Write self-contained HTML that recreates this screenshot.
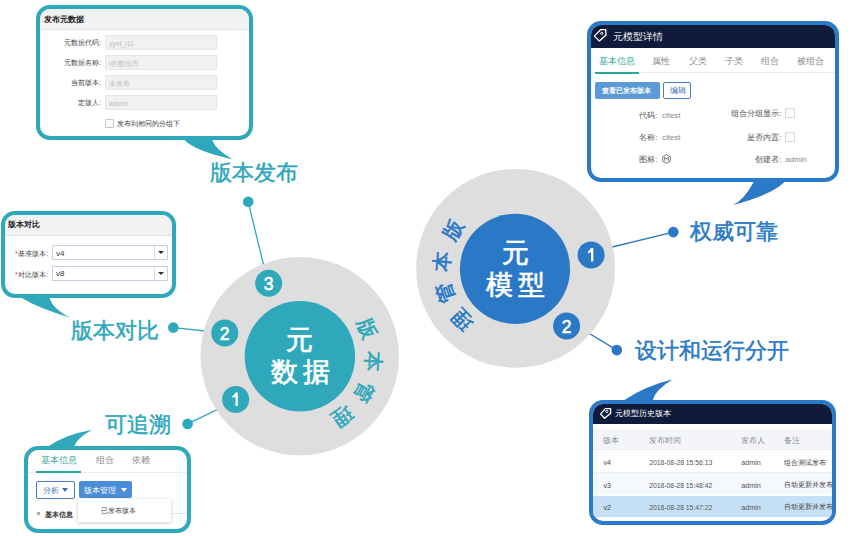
<!DOCTYPE html>
<html><head><meta charset="utf-8">
<style>
*{box-sizing:border-box;margin:0;padding:0}
html,body{width:860px;height:536px;overflow:hidden;background:#fff;font-family:"Liberation Sans",sans-serif}
svg.layer{position:absolute;left:0;top:0}
.box{position:absolute;border:4px solid #2fa8bc;border-radius:14px;background:#fff;overflow:hidden}
.bbox{border-color:#2a7bc7}
.big{position:absolute;font-size:22px;line-height:22px;white-space:nowrap;color:#2fa8bc;-webkit-text-stroke:0.5px #2fa8bc}
.bl{color:#2a78c6;-webkit-text-stroke:0.5px #2a78c6}
.ctr{position:absolute;white-space:nowrap;line-height:1;font-size:27px;color:#fff;-webkit-text-stroke:0.7px #fff}
.hdr{position:absolute;left:0;right:0;top:0;background:#f2f2f2;border-bottom:1px solid #e3e3e3}
.t{position:absolute;white-space:nowrap;line-height:1}
.inp{position:absolute;background:#f1f1f1;border:1px solid #e6e6e6;border-radius:1px}
.lbl{position:absolute;white-space:nowrap;line-height:1;font-size:7px;color:#444;text-align:right}
.sel{position:absolute;background:#fff;border:1px solid #c5cde0;border-radius:1px}
.sel .dv{position:absolute;top:0;bottom:0;width:1px;background:#d6dbe6}
.arr{position:absolute;width:0;height:0;border-left:3.5px solid transparent;border-right:3.5px solid transparent;border-top:4px solid #333}
.navy{position:absolute;left:0;right:0;top:0;background:#101a3b}
.tab{position:absolute;white-space:nowrap;line-height:1;font-size:8.6px;color:#888}
.cb{position:absolute;border:1px solid #ccc;background:#fff;border-radius:1px}
</style></head>
<body>
<svg class="layer" width="860" height="536" viewBox="0 0 860 536">
  <g stroke-width="1.3" fill="none">
    <line x1="248.2" y1="201.8" x2="266" y2="275" stroke="#2fa8bc"/>
    <line x1="173.3" y1="327.6" x2="215" y2="332" stroke="#2fa8bc"/>
    <line x1="187.6" y1="423.9" x2="225" y2="405.8" stroke="#2fa8bc"/>
    <line x1="673.3" y1="232.1" x2="600" y2="250" stroke="#2a78c6"/>
    <line x1="616.8" y1="350.1" x2="580" y2="327.7" stroke="#2a78c6"/>
  </g>
  <circle cx="248.2" cy="201.8" r="5.3" fill="#2fa8bc"/>
  <circle cx="173.3" cy="327.6" r="5.3" fill="#2fa8bc"/>
  <circle cx="187.6" cy="423.9" r="5.3" fill="#2fa8bc"/>
  <circle cx="673.3" cy="232.1" r="5.3" fill="#2a78c6"/>
  <circle cx="616.8" cy="350.1" r="5.3" fill="#2a78c6"/>

  <circle cx="299.75" cy="356.2" r="99.2" fill="#dedede"/>
  <circle cx="299.9" cy="356.3" r="55.2" fill="#2fa8bc"/>
  <circle cx="268.7" cy="283.2" r="13.5" fill="#2fa8bc"/>
  <circle cx="224.8" cy="332.9" r="13.5" fill="#2fa8bc"/>
  <circle cx="235.7" cy="399.4" r="13.5" fill="#2fa8bc"/>
  <g transform="translate(235.6,399.4)"><path d="M0,-6.8 H2.2 V6.7 H-0.1 V-3.2 Q-1.4,-2.1 -3.2,-1.4 V-3.4 Q-1.2,-4.4 0,-6.8 Z" fill="#fff"/></g>
  <g font-family="Liberation Sans, sans-serif" font-size="17.5" fill="#fff" text-anchor="middle" stroke="#fff" stroke-width="0.6">
    <text x="268.7" y="289.9">3</text>
    <text x="224.7" y="339.6">2</text>
    
  </g>
  <g font-size="20" fill="#2fa8bc" stroke="#2fa8bc" stroke-width="0.7" text-anchor="middle" dominant-baseline="central">
    <text transform="translate(367.6,329) rotate(68)">版</text>
    <text transform="translate(372.9,361.1) rotate(93.6)">本</text>
    <text transform="translate(363.8,392.1) rotate(119)">管</text>
    <text transform="translate(342.4,416.2) rotate(144.3)">理</text>
  </g>

  <circle cx="515.6" cy="268.3" r="99.4" fill="#dedede"/>
  <circle cx="515" cy="268.8" r="55.1" fill="#2a78c6"/>
  <circle cx="591.1" cy="254.9" r="13.5" fill="#2a78c6"/>
  <g transform="translate(591.1,254.9)"><path d="M0,-6.8 H2.2 V6.7 H-0.1 V-3.2 Q-1.4,-2.1 -3.2,-1.4 V-3.4 Q-1.2,-4.4 0,-6.8 Z" fill="#fff"/></g>
  <circle cx="566.6" cy="326" r="13.5" fill="#2a78c6"/>
  <g font-family="Liberation Sans, sans-serif" font-size="17.5" fill="#fff" text-anchor="middle" stroke="#fff" stroke-width="0.6">
    
    <text x="566.6" y="332.6">2</text>
  </g>
  <g font-size="20" fill="#2a78c6" stroke="#2a78c6" stroke-width="0.7" text-anchor="middle" dominant-baseline="central">
    <text transform="translate(453,229.9) rotate(-59)">版</text>
    <text transform="translate(441.8,261.8) rotate(-85)">本</text>
    <text transform="translate(445.6,292.6) rotate(-109)">管</text>
    <text transform="translate(462,319.6) rotate(-133.5)">理</text>
  </g>

  <path d="M184.6,134 L184.6,140 Q195.4,151.3 232.2,159.2 Q215,149 212.3,140 L212.3,134 Z" fill="#2fa8bc"/>
  <path d="M20.9,292 L20.9,297.5 Q38.45,308.4 69.8,317.4 Q51.95,308.4 49.5,297.5 L49.5,292 Z" fill="#2fa8bc"/>
  <path d="M48.1,452 L48.1,446.4 Q64.9,434.55 92.5,429.7 Q77.95,436.75 74,446.4 L74,452 Z" fill="#2fa8bc"/>
  <path d="M753.5,176 L753.5,182.2 Q743.5,200.75 732.6,205 Q771,195.15 784.2,182.2 L784.2,176 Z" fill="#2a78c6"/>
  <path d="M624.4,406 L624.4,400 Q645.8,385.85 672.8,379.3 Q655.8,389.45 652.8,400 L652.8,406 Z" fill="#2a78c6"/>
</svg>

<div class="ctr" style="left:286px;top:327px">元</div>
<div class="ctr" style="left:271px;top:358.7px;letter-spacing:4.7px">数据</div>
<div class="ctr" style="left:502px;top:240px">元</div>
<div class="ctr" style="left:486px;top:271.5px;letter-spacing:4.6px">模型</div>

<div class="big" style="left:210px;top:162px">版本发布</div>
<div class="big" style="left:71px;top:320px">版本对比</div>
<div class="big" style="left:105px;top:414px">可追溯</div>
<div class="big bl" style="left:690px;top:221px">权威可靠</div>
<div class="big bl" style="left:635px;top:340px">设计和运行分开</div>

<!-- box 1: 发布元数据 -->
<div class="box" style="left:36px;top:5px;width:217px;height:135px">
  <div class="hdr" style="height:21px"></div>
  <div class="t" style="left:4px;top:6.5px;font-size:8px;font-weight:bold;color:#222">发布元数据</div>
  <div class="lbl" style="left:0;width:61px;top:31.2px;font-size:6.6px">元数据代码:</div>
  <div class="lbl" style="left:0;width:61px;top:51.2px;font-size:6.6px">元数据名称:</div>
  <div class="lbl" style="left:0;width:61px;top:71.2px;font-size:6.6px">当前版本:</div>
  <div class="lbl" style="left:0;width:61px;top:91.2px;font-size:6.6px">定版人:</div>
  <div class="inp" style="left:65px;top:26px;width:112px;height:14.6px"></div>
  <div class="inp" style="left:65px;top:46.2px;width:112px;height:14.6px"></div>
  <div class="inp" style="left:65px;top:66.2px;width:112px;height:14.6px"></div>
  <div class="inp" style="left:65px;top:86.2px;width:112px;height:14.6px"></div>
  <div class="t" style="left:69px;top:31px;font-size:7px;color:#c0c0c0">yyxt_i11</div>
  <div class="t" style="left:69px;top:51px;font-size:7px;color:#c0c0c0">i的数据库</div>
  <div class="t" style="left:69px;top:71px;font-size:7px;color:#c0c0c0">未发布</div>
  <div class="t" style="left:69px;top:91px;font-size:7px;color:#c0c0c0">admin</div>
  <div class="cb" style="left:65.4px;top:110.3px;width:8.5px;height:8.5px;border-color:#bfc6d6"></div>
  <div class="t" style="left:77.3px;top:112px;font-size:6.6px;color:#444">发布到相同的分组下</div>
</div>

<!-- box 2: 版本对比 -->
<div class="box" style="left:1px;top:211px;width:174.5px;height:86.5px">
  <div class="hdr" style="height:21.4px"></div>
  <div class="t" style="left:3px;top:6px;font-size:8px;font-weight:bold;color:#222">版本对比</div>
  <div class="t" style="left:10px;top:35px;font-size:7px;color:#e33">*</div>
  <div class="lbl" style="left:0;width:43px;top:35px">基准版本:</div>
  <div class="t" style="left:10px;top:55.5px;font-size:7px;color:#e33">*</div>
  <div class="lbl" style="left:0;width:43px;top:55.5px">对比版本:</div>
  <div class="sel" style="left:47px;top:30.2px;width:115.5px;height:14.6px"><div class="dv" style="left:101px"></div><div class="arr" style="left:104.5px;top:5px;border-left-width:3px;border-right-width:3px;border-top-width:3.5px"></div></div>
  <div class="sel" style="left:47px;top:50.6px;width:115.5px;height:15px"><div class="dv" style="left:101px"></div><div class="arr" style="left:104.5px;top:5.3px;border-left-width:3px;border-right-width:3px;border-top-width:3.5px"></div></div>
  <div class="t" style="left:51px;top:34.5px;font-size:8px;color:#333">v4</div>
  <div class="t" style="left:51px;top:55px;font-size:8px;color:#333">v8</div>
</div>

<!-- box 3 -->
<div class="box" style="left:24px;top:446.4px;width:167px;height:86.5px">
  <div class="t" style="left:0;right:0;top:21.3px;height:1px;background:#ececec"></div>
  <div class="tab" style="left:13.4px;top:6px;font-size:8.6px;color:#36a893">基本信息</div>
  <div class="tab" style="left:67.5px;top:6px;font-size:8.6px;color:#888">组合</div>
  <div class="tab" style="left:104px;top:6px;font-size:8.6px;color:#888">依赖</div>
  <div class="t" style="left:8.2px;top:20.5px;width:44.8px;height:2px;background:#25a898"></div>
  <div class="t" style="left:8.2px;top:30.8px;width:39px;height:17.4px;border:1px solid #4a7fd0;border-radius:2px;background:#fff"></div>
  <div class="t" style="left:15.2px;top:36.2px;font-size:8px;color:#3d6fc0">分析</div>
  <div class="arr" style="left:34px;top:37.8px;border-top-color:#3d6fc0"></div>
  <div class="t" style="left:50.8px;top:31px;width:53.7px;height:17px;border-radius:2px;background:#4b8dd6"></div>
  <div class="t" style="left:56px;top:36.2px;font-size:8px;color:#fff">版本管理</div>
  <div class="arr" style="left:92.5px;top:37.8px;border-top-color:#fff"></div>
  <div class="t" style="left:8.5px;top:61.8px;width:3.3px;height:3.3px;background:#aaa"></div>
  <div class="t" style="left:16.5px;top:60.3px;font-size:7.4px;font-weight:bold;color:#333">基本信息</div>
  <div class="t" style="left:143px;right:0;top:63px;height:1px;background:#e6e6e6"></div>
  <div class="t" style="left:50px;top:48.6px;width:93px;height:22.7px;background:#fff;box-shadow:0 1px 4px rgba(0,0,0,0.22)"></div>
  <div class="t" style="left:72.7px;top:58px;font-size:7.1px;color:#444">已发布版本</div>
</div>

<!-- box 4: 元模型详情 -->
<div class="box bbox" style="left:586.9px;top:21.4px;width:252px;height:160.8px">
  <div class="navy" style="height:22.5px"></div>
  <svg class="t" style="left:0.5px;top:0.6px" width="20" height="18" viewBox="0 0 20 18"><path d="M9.6,3.7 L14.7,3.7 L15,9 L8.4,15.1 L3.3,10.1 Z" fill="none" stroke="#fff" stroke-width="1.3" stroke-linejoin="round"/><circle cx="10.8" cy="7.4" r="1.1" fill="none" stroke="#fff" stroke-width="1"/></svg>
  <div class="t" style="left:21.7px;top:6.5px;font-size:9.8px;color:#fff">元模型详情</div>
  <div class="t" style="left:0;right:0;top:46.6px;height:1px;background:#ebebeb"></div>
  <div class="tab" style="left:8px;top:31.2px;color:#36a893">基本信息</div>
  <div class="tab" style="left:61.3px;top:31.2px">属性</div>
  <div class="tab" style="left:97.7px;top:31.2px">父类</div>
  <div class="tab" style="left:134px;top:31.2px">子类</div>
  <div class="tab" style="left:170px;top:31.2px">组合</div>
  <div class="tab" style="left:206.5px;top:31.2px">被组合</div>
  <div class="t" style="left:4.3px;top:46.3px;width:44px;height:2px;background:#25a898"></div>
  <div class="t" style="left:4.3px;top:56.8px;width:64.8px;height:16.5px;border-radius:2px;background:#5b9ad6"></div>
  <div class="t" style="left:10.8px;top:61.3px;font-size:7.3px;color:#fff;-webkit-text-stroke:0.25px #fff">查看已发布版本</div>
  <div class="t" style="left:72.4px;top:56.8px;width:28px;height:16.5px;border:1px solid #4a7fd0;border-radius:2px;background:#fff"></div>
  <div class="t" style="left:79.3px;top:61.3px;font-size:7.6px;color:#3d6fc0">编辑</div>
  <div class="lbl" style="left:0;width:66.6px;top:86.5px;font-size:7.6px;color:#555">代码:</div>
  <div class="t" style="left:71px;top:86.3px;font-size:8px;color:#8a8a8a">cltest</div>
  <div class="lbl" style="left:0;width:66.6px;top:108.8px;font-size:7.6px;color:#555">名称:</div>
  <div class="t" style="left:71px;top:108.6px;font-size:8px;color:#8a8a8a">cltest</div>
  <div class="lbl" style="left:0;width:66.6px;top:131.0px;font-size:7.6px;color:#555">图标:</div>
  <svg class="t" style="left:71.3px;top:128.7px" width="9" height="10" viewBox="0 0 9 10"><path d="M4.5,0.6 L8.3,2.8 L8.3,7.2 L4.5,9.4 L0.7,7.2 L0.7,2.8 Z" fill="none" stroke="#666" stroke-width="0.9"/><path d="M2.7,6.8 V3.2 L4.5,5.2 L6.3,3.2 V6.8" fill="none" stroke="#666" stroke-width="0.9"/></svg>
  <div class="lbl" style="left:0;width:190.4px;top:85.0px;font-size:7.6px;color:#555">组合分组显示:</div>
  <div class="cb" style="left:194.6px;top:82.8px;width:10px;height:10px;border-color:#d6d6d6"></div>
  <div class="lbl" style="left:0;width:190.4px;top:108.5px;font-size:7.6px;color:#555">是否内置:</div>
  <div class="cb" style="left:194.6px;top:106.3px;width:10px;height:10px;border-color:#d6d6d6"></div>
  <div class="lbl" style="left:0;width:190.4px;top:131.0px;font-size:7.6px;color:#555">创建者:</div>
  <div class="t" style="left:194.3px;top:130.8px;font-size:8px;color:#8a8a8a">admin</div>
</div>

<!-- box 5: 历史版本 -->
<div class="box bbox" style="left:589.2px;top:400px;width:247.3px;height:125.3px">
  <div class="navy" style="height:20px"></div>
  <svg class="t" style="left:2.5px;top:0px" width="20" height="18" viewBox="0 0 20 18"><path d="M9.3,4.6 L14.6,4.6 L14.6,9.3 L8.6,14.3 L4.6,10.1 Z" fill="none" stroke="#fff" stroke-width="1.3" stroke-linejoin="round"/><circle cx="10.8" cy="7.5" r="1.1" fill="none" stroke="#fff" stroke-width="1"/></svg>
  <div class="t" style="left:22px;top:5.8px;font-size:8px;color:#fff">元模型历史版本</div>
  <div class="t" style="left:0;right:0;top:25.2px;height:21.2px;background:#f4f5fa;border-bottom:1px solid #ebedf3"></div>
  <div class="t" style="left:0;right:0;top:46.4px;height:22.5px;background:#fff;border-bottom:1px solid #eef0f4"></div>
  <div class="t" style="left:0;right:0;top:68.9px;height:22.6px;background:#f5f8fc"></div>
  <div class="t" style="left:0;right:0;top:91.5px;height:21.6px;background:#c6e1f6"></div>
  <div class="t" style="left:10px;top:32.7px;font-size:8px;color:#8a8f9c">版本</div>
  <div class="t" style="left:56px;top:32.7px;font-size:8px;color:#8a8f9c">发布时间</div>
  <div class="t" style="left:148px;top:32.7px;font-size:8px;color:#8a8f9c">发布人</div>
  <div class="t" style="left:191px;top:32.7px;font-size:8px;color:#8a8f9c">备注</div>
  <div class="t" style="left:10.3px;top:55.4px;font-size:7px;color:#444">v4</div>
  <div class="t" style="left:56px;top:56.4px;font-size:6.8px;color:#555">2018-08-28 15:56:13</div>
  <div class="t" style="left:148px;top:55.2px;font-size:7.2px;color:#555">admin</div>
  <div class="t" style="left:191px;top:55.6px;font-size:6.6px;color:#444">组合测试发布</div>
  <div class="t" style="left:10.3px;top:77.9px;font-size:7px;color:#444">v3</div>
  <div class="t" style="left:56px;top:78.9px;font-size:6.8px;color:#555">2018-08-28 15:48:42</div>
  <div class="t" style="left:148px;top:77.7px;font-size:7.2px;color:#555">admin</div>
  <div class="t" style="left:191px;top:78.1px;font-size:6.6px;color:#444">自动更新并发布内容</div>
  <div class="t" style="left:10.3px;top:99.9px;font-size:7px;color:#444">v2</div>
  <div class="t" style="left:56px;top:100.9px;font-size:6.8px;color:#555">2018-08-28 15:47:22</div>
  <div class="t" style="left:148px;top:99.7px;font-size:7.2px;color:#555">admin</div>
  <div class="t" style="left:191px;top:100.1px;font-size:6.6px;color:#444">自动更新并发布内容</div>
</div>
</body></html>
